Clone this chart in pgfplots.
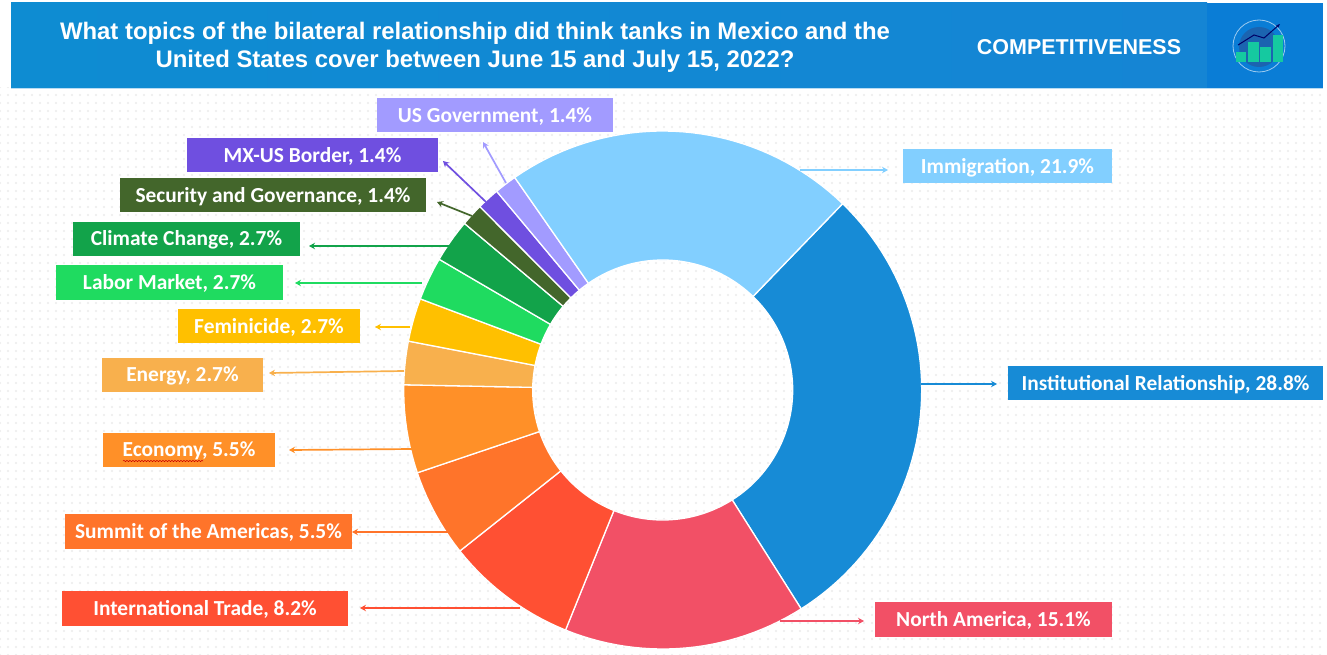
\documentclass[border=0pt]{standalone}
\usepackage{fontspec}
\setmainfont{Carlito}
\newfontfamily\headfont{Liberation Sans}
\usepackage{pgfplots}
\pgfplotsset{compat=1.18}
\usepgfplotslibrary{polar}
\usetikzlibrary{patterns.meta,decorations.pathmorphing,arrows.meta}

\definecolor{cInst}{HTML}{178BD6}
\definecolor{cNA}{HTML}{F25066}
\definecolor{cTrade}{HTML}{FF5033}
\definecolor{cSummit}{HTML}{FF742A}
\definecolor{cEcon}{HTML}{FF9028}
\definecolor{cEnergy}{HTML}{F8B04D}
\definecolor{cFem}{HTML}{FFC000}
\definecolor{cLabor}{HTML}{1FDB60}
\definecolor{cClimate}{HTML}{12A34A}
\definecolor{cSec}{HTML}{43662B}
\definecolor{cMX}{HTML}{6F4FE0}
\definecolor{cUS}{HTML}{A29BFF}
\definecolor{cImm}{HTML}{82CFFF}
\definecolor{headL}{HTML}{0E8CD2}
\definecolor{headR}{HTML}{1585D4}
\definecolor{headIcon}{HTML}{0A7DD6}
\definecolor{iconBar}{HTML}{15C9A0}
\definecolor{iconDisc}{HTML}{1B64B0}

% ring slice: value in percent, colour; runs clockwise from \astart
\newcommand{\astart}{46}
\newcommand{\rin}{130}
\newcommand{\rout}{259}
\newcommand{\slice}[2]{%
  \pgfmathsetmacro\aend{\astart-3.6*#1}%
  \pgfmathtruncatemacro\nseg{max(1,ceil(3.6*#1/2))}%
  \xdef\pts{(\astart,\rin)}%
  \foreach \i in {0,...,\nseg}{%
    \pgfmathsetmacro\a{\astart+(\aend-\astart)*\i/\nseg}%
    \xdef\pts{\pts (\a,\rout)}}%
  \foreach \i in {\nseg,...,0}{%
    \pgfmathsetmacro\a{\astart+(\aend-\astart)*\i/\nseg}%
    \xdef\pts{\pts (\a,\rin)}}%
  \edef\tmp{\noexpand\addplot[fill=#2,draw=white,line width=1.3pt,line join=round,mark=none] coordinates {\pts};}%
  \tmp
  \xdef\astart{\aend}%
}
% label box in pixel corners
\newcommand{\lab}[6]{%
  \fill[#5] (#1,#2) rectangle (#3,#4);
  \node[text=white,font=\fontsize{21.4}{24}\selectfont\bfseries,inner sep=0pt] at ({(#1+#3)/2},{(#2+#4)/2+1.3}) {#6};
}
\newcommand{\lead}[5]{\draw[#5,line width=1.7pt,-{Stealth[length=6pt,width=6.5pt]}] (#1,#2) -- (#3,#4);}

\begin{document}
\begin{tikzpicture}[x=1pt,y=-1pt]
\useasboundingbox (0,0) rectangle (1327,655);
\fill[white] (0,0) rectangle (1327,655);
\fill[pattern={Dots[distance=8pt,radius=1.1pt]},pattern color=black!8] (0,88) rectangle (1327,655);

% header band
\shade[left color=headL,right color=headR] (11,3) rectangle (1207,88);
\fill[headIcon] (1207,3) rectangle (1323,88);
\draw[white!70!cInst,line width=0.8pt] (11,88) -- (1323,88);

\node[text=white,font=\headfont\fontsize{23.9}{28}\selectfont\bfseries,align=center,inner sep=0pt] at (475,47.5)
  {What topics of the bilateral relationship did think tanks in Mexico and the\\United States cover between June 15 and July 15, 2022?};
\node[text=white,font=\headfont\fontsize{21.5}{26}\selectfont\bfseries,inner sep=0pt] at (1079,47) {COMPETITIVENESS};

% icon
\draw[white!60!headIcon,line width=0.8pt] (1259,46) circle (26);
\fill[iconDisc] (1259,47) circle (20);
\fill[iconBar] (1236,52) rectangle (1246,62);
\fill[iconBar] (1248,42) rectangle (1259,62);
\fill[iconBar] (1260,47) rectangle (1271,62);
\fill[iconBar] (1273,35) rectangle (1283,62);
\draw[black!60!blue,line width=1pt,-{Stealth[length=4pt]}] (1238,45) -- (1254,35) -- (1264,38) -- (1280,24);

\begin{polaraxis}[
  at={(662.7pt,-390pt)}, anchor=center,
  scale only axis, width=518pt, height=518pt,
  xmin=0, xmax=360, ymin=0, ymax=259,
  hide axis, clip=false,
]
\slice{28.8}{cInst}
\slice{15.1}{cNA}
\slice{8.2}{cTrade}
\slice{5.5}{cSummit}
\slice{5.5}{cEcon}
\slice{2.7}{cEnergy}
\slice{2.7}{cFem}
\slice{2.7}{cLabor}
\slice{2.7}{cClimate}
\slice{1.4}{cSec}
\slice{1.4}{cMX}
\slice{1.4}{cUS}
\slice{21.9}{cImm}
\end{polaraxis}

\lead{800}{170}{888}{170}{cImm}
\lead{921}{384}{997}{384}{cInst}
\lead{780}{621}{864}{621}{cNA}
\lead{520}{608}{360}{608}{cTrade}
\lead{450}{532}{352}{532}{cSummit}
\lead{413}{449}{289}{450}{cEcon}
\lead{404}{371}{269}{373}{cEnergy}
\lead{410}{327}{375}{327}{cFem}
\lead{422}{283}{295}{283}{cLabor}
\lead{450}{246}{309}{246}{cClimate}
\lead{472}{216}{437}{202}{cSec}
\lead{486}{202}{443}{161}{cMX}
\lead{506}{183}{483}{142}{cUS}

\lab{377}{98}{613}{132}{cUS}{US Government, 1.4\%}
\lab{187}{138}{438}{172}{cMX}{MX-US Border, 1.4\%}
\lab{120}{178}{426}{212}{cSec}{Security and Governance, 1.4\%}
\lab{73}{222}{300}{256}{cClimate}{Climate Change, 2.7\%}
\lab{56}{265}{283}{300}{cLabor}{Labor Market, 2.7\%}
\lab{178}{309}{360}{343}{cFem}{Feminicide, 2.7\%}
\lab{102}{358}{263}{392}{cEnergy}{Energy, 2.7\%}
\lab{103}{433}{275}{467}{cEcon}{Economy, 5.5\%}
\lab{65}{514}{352}{549}{cSummit}{Summit of the Americas, 5.5\%}
\lab{62}{591}{348}{626}{cTrade}{International Trade, 8.2\%}
\lab{875}{602}{1112}{637}{cNA}{North America, 15.1\%}
\lab{1008}{366}{1323}{400}{cInst}{Institutional Relationship, 28.8\%}
\lab{903}{149}{1112}{183}{cImm}{Immigration, 21.9\%}
\draw[red!80!black,line width=0.5pt,decorate,decoration={snake,amplitude=0.7pt,segment length=3pt}] (123,461) -- (203,461);
\end{tikzpicture}
\end{document}
